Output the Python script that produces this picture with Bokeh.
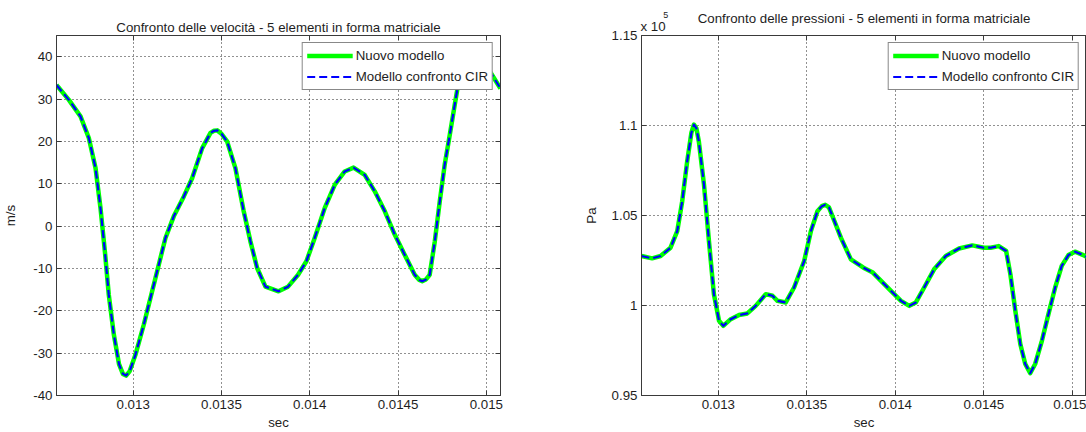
from bokeh.plotting import figure
from bokeh.layouts import row
from bokeh.models import Range1d, FixedTicker, LinearAxis, CustomJSTickFormatter
from bokeh.embed import file_html
from bokeh.resources import INLINE

# ---------------------------------------------------------------- data
# time (s) and velocity (m/s) - 5 elements, matrix formulation
t_vel = [0.012566, 0.012636, 0.012702, 0.012749, 0.012787, 0.012815, 0.012840,
         0.012862, 0.012891, 0.012920, 0.012942, 0.012960, 0.012980, 0.013013,
         0.013060, 0.013126, 0.013183, 0.013230, 0.013287, 0.013334, 0.013391,
         0.013438, 0.013458, 0.013476, 0.013500, 0.013532, 0.013579, 0.013626,
         0.013664, 0.013702, 0.013749, 0.013823, 0.013877, 0.013934, 0.013981,
         0.014028, 0.014085, 0.014142, 0.014198, 0.014248, 0.014311, 0.014368,
         0.014425, 0.014481, 0.014538, 0.014594, 0.014620, 0.014637, 0.014658,
         0.014679, 0.014708, 0.014736, 0.014764, 0.014793, 0.014821, 0.014840,
         0.014870, 0.014920, 0.014970, 0.015020, 0.015080]
vel = [33.3, 29.8, 25.9, 20.8, 13.7, 4.3, -6.0,
       -16.2, -25.7, -32.6, -34.9, -35.3, -34.3, -30.4,
       -23.3, -12.3, -2.8, 2.3, 7.0, 11.3, 18.4,
       22.0, 22.5, 22.6, 21.8, 20.0, 13.7, 3.5,
       -3.6, -9.9, -14.3, -15.4, -14.3, -11.5, -8.3,
       -2.8, 4.3, 9.8, 12.9, 13.8, 12.1, 8.2,
       3.5, -2.0, -6.8, -11.5, -12.7, -13.0, -12.6,
       -11.5, -3.6, 5.8, 14.5, 21.6, 28.7, 33.4,
       38.0, 40.5, 40.0, 36.5, 32.5]

# time (s) and pressure (Pa)
t_pre = [0.012566, 0.012626, 0.012674, 0.012730, 0.012768, 0.012796, 0.012824,
         0.012848, 0.012862, 0.012876, 0.012890, 0.012919, 0.012947, 0.012975,
         0.013004, 0.013028, 0.013070, 0.013117, 0.013164, 0.013211, 0.013268,
         0.013306, 0.013334, 0.013381, 0.013428, 0.013485, 0.013523, 0.013560,
         0.013585, 0.013604, 0.013625, 0.013645, 0.013693, 0.013749, 0.013820,
         0.013873, 0.013929, 0.013985, 0.014032, 0.014079, 0.014116, 0.014163,
         0.014219, 0.014285, 0.014360, 0.014435, 0.014500, 0.014538, 0.014584,
         0.014626, 0.014650, 0.014678, 0.014706, 0.014734, 0.014762, 0.014790,
         0.014828, 0.014865, 0.014903, 0.014940, 0.014978, 0.015015, 0.015062,
         0.015080]
pre = [102750, 102620, 102750, 103210, 104130, 105790, 108000,
       109600, 110050, 109850, 109110, 106720, 103580, 100630,
       99150, 98870, 99240, 99470, 99560, 99980, 100630,
       100540, 100260, 100170, 101000, 102470, 104130, 105240,
       105520, 105600, 105450, 104960, 103760, 102560, 102100,
       101830, 101270, 100720, 100260, 99980, 100170, 101000,
       102010, 102750, 103170, 103340, 103210, 103210, 103300,
       103030, 101730, 99700, 97860, 96750, 96240, 96750,
       98040, 99520, 101000, 102200, 102800, 102990, 102800,
       102700]

x_ticks = [0.013, 0.0135, 0.014, 0.0145, 0.015]
vel_ticks = [-40, -30, -20, -10, 0, 10, 20, 30, 40]
pre_ticks = [95000, 100000, 105000, 110000, 115000]

title_vel = "Confronto delle velocità - 5 elementi in forma matriciale"
title_pre = "Confronto delle pressioni - 5 elementi in forma matriciale"
exp_base = "x 10"
exp_power = "5"

T_START, T_END = 0.012566, 0.01508

FONT = "Liberation Sans"
FS = "13.3px"
AXIS_COL = "#3a3a3a"
TEXT_COL = "#1e1e1e"
GREEN = "#00ff00"
BLUE = "#0000ff"

num_fmt = CustomJSTickFormatter(code="return String(parseFloat(tick.toPrecision(6)));")
pre_fmt = CustomJSTickFormatter(code="return String(parseFloat((tick/1e5).toPrecision(6)));")


def box_axis(ticks, **kw):
    # unlabelled axis that only draws inward ticks on the opposite side of the box
    return LinearAxis(ticker=FixedTicker(ticks=ticks), major_label_text_font_size="0px",
                      major_label_text_color=None, major_label_standoff=0,
                      major_tick_in=5, major_tick_out=0, minor_tick_line_color=None,
                      axis_line_color=AXIS_COL, major_tick_line_color=AXIS_COL, **kw)


def make_fig(width, left, right, y_range, y_ticks, y_fmt, y_label, ylabel_standoff, title):
    p = figure(width=width, height=432, output_backend="svg", toolbar_location=None,
               x_range=Range1d(T_START, T_END), y_range=y_range,
               min_border_left=left, min_border_right=right,
               min_border_top=35, min_border_bottom=35,
               x_axis_label="sec", y_axis_label=y_label, title=title)
    p.background_fill_color = "white"
    p.border_fill_color = "white"
    p.outline_line_color = AXIS_COL
    p.outline_line_width = 1

    if title is not None:
        p.title.align = "center"
        p.title.text_font = FONT
        p.title.text_font_size = FS
        p.title.text_font_style = "normal"
        p.title.text_color = TEXT_COL
        p.title.standoff = 1

    p.xaxis.ticker = FixedTicker(ticks=x_ticks)
    p.xaxis.formatter = num_fmt
    p.yaxis.ticker = FixedTicker(ticks=y_ticks)
    p.yaxis.formatter = y_fmt
    p.yaxis.axis_label_standoff = ylabel_standoff
    p.xaxis.axis_label_standoff = 3

    for ax in p.axis:
        ax.axis_line_color = AXIS_COL
        ax.major_tick_line_color = AXIS_COL
        ax.major_tick_in = 5
        ax.major_tick_out = 0
        ax.minor_tick_line_color = None
        ax.major_label_text_font = FONT
        ax.major_label_text_font_size = FS
        ax.major_label_text_color = TEXT_COL
        ax.major_label_standoff = 4
        ax.axis_label_text_font = FONT
        ax.axis_label_text_font_size = FS
        ax.axis_label_text_font_style = "normal"
        ax.axis_label_text_color = TEXT_COL

    p.add_layout(box_axis(x_ticks), "above")
    p.add_layout(box_axis(y_ticks), "right")

    p.grid.grid_line_color = "#222222"
    p.grid.grid_line_dash = "1 3"
    p.grid.grid_line_width = 1
    p.xgrid.ticker = FixedTicker(ticks=x_ticks)
    p.ygrid.ticker = FixedTicker(ticks=y_ticks)
    return p


def add_curves(p, t, y):
    p.line(t, y, line_color=GREEN, line_width=4.5, line_join="round",
           legend_label="Nuovo modello")
    p.line(t, y, line_color=BLUE, line_width=2.2, line_dash="8 4", line_join="round",
           legend_label="Modello confronto CIR")
    lg = p.legend[0]
    lg.location = "top_right"
    lg.margin = 7
    lg.padding = 4
    lg.spacing = 4
    lg.glyph_width = 46
    lg.glyph_height = 17
    lg.label_height = 17
    lg.label_standoff = 3
    lg.label_text_font = FONT
    lg.label_text_font_size = FS
    lg.label_text_color = TEXT_COL
    lg.border_line_color = "#111111"
    lg.border_line_width = 1
    lg.background_fill_color = "white"
    lg.background_fill_alpha = 1.0


p1 = make_fig(570, 53, 70, Range1d(-40, 45), vel_ticks, num_fmt, "m/s", 12, title_vel)
add_curves(p1, t_vel, vel)

p2 = make_fig(516, 71, 0, Range1d(95000, 115000), pre_ticks, pre_fmt, "Pa", 10, None)
add_curves(p2, t_pre, pre)

# header of the pressure panel: axis multiplier "x 10" at the left corner, the
# title centred a little higher, and the exponent raised on a row of its own
p2.extra_x_ranges = {"header": Range1d(0, 1)}
header = LinearAxis(
    x_range_name="header", ticker=FixedTicker(ticks=[0.026]),
    formatter=CustomJSTickFormatter(args=dict(base=exp_base), code="return base;"),
    axis_line_color=None, major_tick_line_color=None, minor_tick_line_color=None,
    major_label_standoff=-4, major_label_text_font=FONT, major_label_text_font_size=FS,
    major_label_text_color=TEXT_COL,
    axis_label=title_pre, axis_label_standoff=-10, axis_label_text_font=FONT,
    axis_label_text_font_size=FS, axis_label_text_font_style="normal",
    axis_label_text_color=TEXT_COL)
p2.add_layout(header, "above")

power = LinearAxis(
    x_range_name="header", ticker=FixedTicker(ticks=[0.0545]),
    formatter=CustomJSTickFormatter(args=dict(pw=exp_power), code="return pw;"),
    axis_line_color=None, major_tick_line_color=None, minor_tick_line_color=None,
    major_label_standoff=-16, major_label_text_font=FONT, major_label_text_font_size="9px",
    major_label_text_color=TEXT_COL)
p2.add_layout(power, "above")

layout = row(p1, p2)
open("out.html", "w").write(file_html(layout, INLINE))
